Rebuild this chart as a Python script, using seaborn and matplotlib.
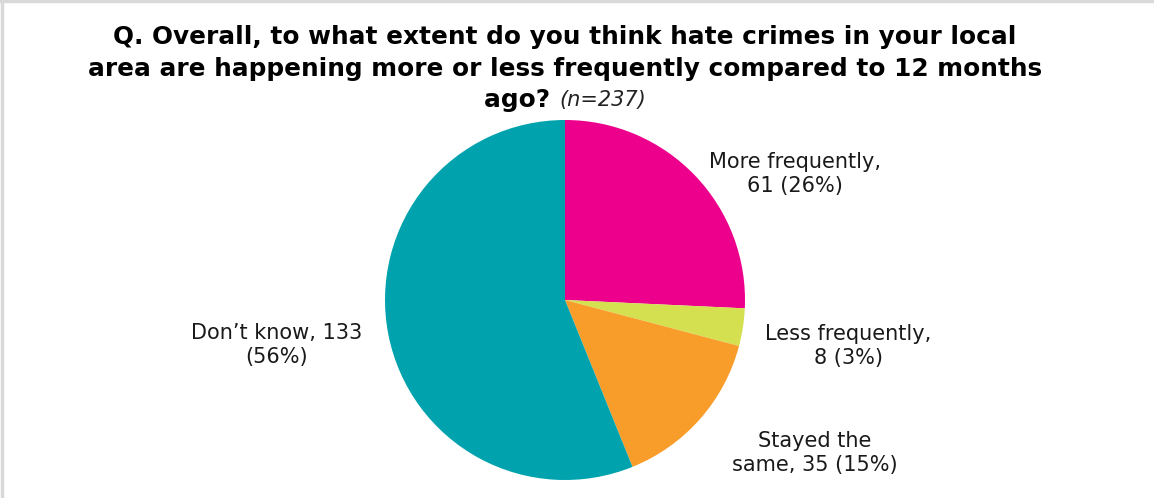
import numpy as np
import pandas as pd
import seaborn as sns
import matplotlib.pyplot as plt
from matplotlib.lines import Line2D

sns.set_style('white')

categories = ['More frequently', 'Less frequently', 'Stayed the same', 'Don\u2019t know']
counts = [61, 8, 35, 133]
label_texts = ['More frequently,\n61 (26%)', 'Less frequently,\n8 (3%)',
               'Stayed the\nsame, 35 (15%)', 'Don\u2019t know, 133\n(56%)']
colors = sns.color_palette(['#EC008C', '#D4E04F', '#F99D2A', '#00A3AD'])

df = pd.DataFrame({'category': categories, 'count': counts})

W, H = 1154, 498
fig = plt.figure(figsize=(W / 100, H / 100), dpi=100)

# pie axes, center ~ (565, 300) px, radius ~ 180 px
cx, cy, r = 565, 300, 180
ax = fig.add_axes([(cx - r) / W, (H - cy - r) / H, 2 * r / W, 2 * r / H])
ax.pie(df['count'], colors=colors, startangle=90, counterclock=False,
       wedgeprops=dict(linewidth=0))
ax.set_xlim(-1, 1)
ax.set_ylim(-1, 1)
ax.set_aspect('equal')
ax.axis('off')

# slice labels (pixel positions)
label_pos = [(795, 174), (848, 346), (815, 453), (277, 345)]
for txt, (px, py) in zip(label_texts, label_pos):
    fig.text(px / W, 1 - py / H, txt, ha='center', va='center',
             fontsize=15, color='#1a1a1a', linespacing=1.3)

# title
tkw = dict(ha='center', va='center', fontsize=17.8, fontweight='bold', color='black')
fig.text(565 / W, 1 - 37 / H, 'Q. Overall, to what extent do you think hate crimes in your local', **tkw)
fig.text(565 / W, 1 - 69 / H, 'area are happening more or less frequently compared to 12 months', **tkw)

renderer = fig.canvas.get_renderer()
t1 = fig.text(0, 0, 'ago? ', ha='left', va='center', fontsize=17.8, fontweight='bold', color='black')
t2 = fig.text(0, 0, '(n=237)', ha='left', va='center', fontsize=15, style='italic', color='#222222')
w1 = t1.get_window_extent(renderer).width
w2 = t2.get_window_extent(renderer).width
x0 = 565 - (w1 + w2) / 2
t1.set_position((x0 / W, 1 - 100 / H))
t2.set_position(((x0 + w1) / W, 1 - 100 / H))

# light border on top and left
fig.add_artist(Line2D([0, 1], [1 - 1.5 / H, 1 - 1.5 / H], transform=fig.transFigure, color='#d9d9d9', lw=2.5))
fig.add_artist(Line2D([1.5 / W, 1.5 / W], [0, 1], transform=fig.transFigure, color='#d9d9d9', lw=2.5))

fig.savefig('out.png', dpi=100, facecolor='white')
